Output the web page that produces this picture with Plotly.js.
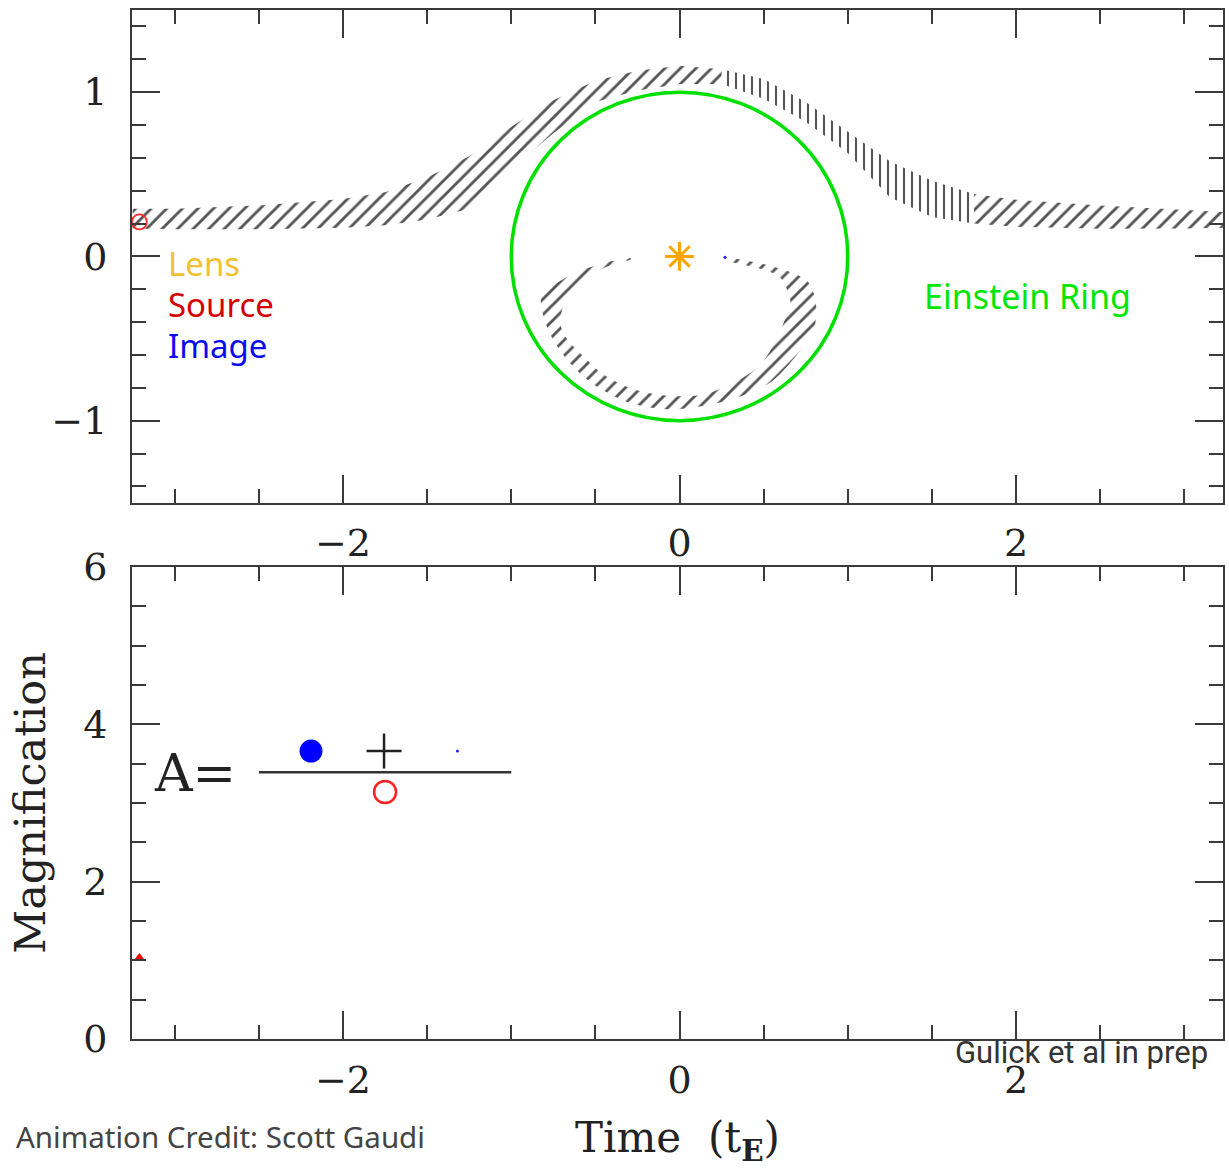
<!DOCTYPE html>
<html>
<head>
<meta charset="utf-8">
<script src="https://cdn.plot.ly/plotly-3.0.1.min.js"></script>
<style>html,body{margin:0;padding:0;background:#fff;}#chart{width:1229px;height:1168px;}</style>
</head>
<body>
<div id="chart"></div>
<script>
// ---- Data ----
// Major image trail (hatched band, top panel)
const timeGrid    = [-3.25, -3.0, -2.5, -2.0, -1.75, -1.5, -1.25, -1.0, -0.75, -0.5, -0.25, 0, 0.25, 0.5, 0.75, 1.0, 1.25, 1.5, 1.75, 2.0, 2.5, 3.0, 3.25];
const majorTop    = [0.29, 0.29, 0.31, 0.35, 0.39, 0.48, 0.61, 0.79, 0.95, 1.07, 1.13, 1.16, 1.14, 1.08, 0.94, 0.76, 0.58, 0.46, 0.38, 0.345, 0.31, 0.286, 0.27];
const majorBottom = [0.17, 0.165, 0.165, 0.175, 0.19, 0.225, 0.29, 0.53, 0.75, 0.94, 1.01, 1.05, 1.05, 0.96, 0.82, 0.63, 0.36, 0.24, 0.20, 0.18, 0.168, 0.17, 0.175];
// Minor image trail (hatched loop inside the Einstein ring)
const loopOuterX = [-0.29, -0.45, -0.66, -0.82, -0.81, -0.76, -0.65, -0.51, -0.30, -0.07, 0.14, 0.34, 0.55, 0.72, 0.80, 0.81, 0.76, 0.55, 0.27];
const loopOuterY = [-0.01, -0.04, -0.12, -0.24, -0.36, -0.49, -0.65, -0.78, -0.89, -0.93, -0.91, -0.86, -0.76, -0.57, -0.44, -0.28, -0.15, -0.06, -0.01];
const loopInnerX = [-0.29, -0.45, -0.58, -0.68, -0.71, -0.67, -0.57, -0.45, -0.27, -0.05, 0.14, 0.32, 0.48, 0.58, 0.62, 0.66, 0.60, 0.50, 0.27];
const loopInnerY = [-0.02, -0.07, -0.17, -0.28, -0.40, -0.50, -0.61, -0.72, -0.81, -0.85, -0.84, -0.77, -0.66, -0.50, -0.40, -0.28, -0.13, -0.08, -0.02];
// Point markers
const sourceX = [-3.21], sourceY = [0.21];
const lensX = [0], lensY = [0];
const imageX = [0.27], imageY = [-0.005];
const ringRadius = 1;
const magX = [-3.21], magY = [1.03];
// Formula glyph positions (bottom panel)
const fImgX = [-2.19], fImgY = [3.66];
const fPlusX = [-1.756], fPlusY = [3.66];
const fMinorX = [-1.32], fMinorY = [3.66];
const fSrcX = [-1.75], fSrcY = [3.14];
const fLineX = [-2.5, -1.0], fLineY = 3.39;
// Labels
const legendLabels = ["Lens", "Source", "Image"];
const legendColors = ["#f2c12e", "#d40000", "#0a0af0"];
const legendY = [-0.04, -0.29, -0.54];

const HATCH = "#555555";
function band(xs, top, bot, i0, i1) {
  const x = xs.slice(i0, i1 + 1), t = top.slice(i0, i1 + 1), b = bot.slice(i0, i1 + 1);
  return {x: x.concat(x.slice().reverse()), y: t.concat(b.slice().reverse())};
}
function loopPoly() {
  return {
    x: loopOuterX.concat(loopInnerX.slice().reverse()),
    y: loopOuterY.concat(loopInnerY.slice().reverse())
  };
}
function hatchTrace(poly, shape, spline, size) {
  return {
    type: "scatter", mode: "lines", x: poly.x, y: poly.y, xaxis: "x", yaxis: "y",
    fill: "toself", fillcolor: "rgba(0,0,0,0)",
    line: {width: 0, color: "rgba(0,0,0,0)", shape: spline ? "spline" : "linear", smoothing: 0.8},
    fillpattern: {shape: shape, size: size, solidity: 0.26, fgcolor: HATCH, bgcolor: "rgba(0,0,0,0)"},
    hoverinfo: "skip", showlegend: false
  };
}
const iSplit1 = timeGrid.indexOf(0.25), iSplit2 = timeGrid.indexOf(1.75);
const traces = [
  hatchTrace(band(timeGrid, majorTop, majorBottom, 0, iSplit1), "/", false, 11),
  hatchTrace(band(timeGrid, majorTop, majorBottom, iSplit1, iSplit2), "|", false, 8),
  hatchTrace(band(timeGrid, majorTop, majorBottom, iSplit2, timeGrid.length - 1), "/", false, 11),
  hatchTrace(loopPoly(), "/", true, 11),
  {type: "scatter", mode: "markers", x: sourceX, y: sourceY, xaxis: "x", yaxis: "y",
   marker: {symbol: "circle-open", size: 15, color: "#ff2a2a", line: {width: 1.8, color: "#ff2a2a"}}, showlegend: false},
  {type: "scatter", mode: "markers", x: lensX, y: lensY, xaxis: "x", yaxis: "y",
   marker: {symbol: "asterisk-open", size: 24, color: "#ffa500", line: {width: 3, color: "#ffa500"}}, showlegend: false},
  {type: "scatter", mode: "markers", x: imageX, y: imageY, xaxis: "x", yaxis: "y",
   marker: {symbol: "circle", size: 3, color: "#2020ff"}, showlegend: false},
  {type: "scatter", mode: "markers", x: magX, y: magY, xaxis: "x2", yaxis: "y2",
   marker: {symbol: "triangle-up", size: 10, color: "#ff0000"}, showlegend: false},
  {type: "scatter", mode: "markers", x: fImgX, y: fImgY, xaxis: "x2", yaxis: "y2",
   marker: {symbol: "circle", size: 23, color: "#0000ff"}, showlegend: false},
  {type: "scatter", mode: "markers", x: fPlusX, y: fPlusY, xaxis: "x2", yaxis: "y2",
   marker: {symbol: "cross-thin-open", size: 25, color: "#222", line: {width: 2.5, color: "#222"}}, showlegend: false},
  {type: "scatter", mode: "markers", x: fMinorX, y: fMinorY, xaxis: "x2", yaxis: "y2",
   marker: {symbol: "circle", size: 3, color: "#2020ff"}, showlegend: false},
  {type: "scatter", mode: "markers", x: fSrcX, y: fSrcY, xaxis: "x2", yaxis: "y2",
   marker: {symbol: "circle-open", size: 22, color: "#ff2020", line: {width: 2.5, color: "#ff2020"}}, showlegend: false}
];

const AX = "#3a3a3a";
const SERIF = "DejaVu Serif";
const SANS = "Noto Sans";
function xAxis(anchor) {
  return {
    anchor: anchor, range: [-3.254, 3.23], domain: [0, 1],
    showline: true, linecolor: AX, linewidth: 2, mirror: "ticks",
    ticks: "inside", ticklen: 28, tickwidth: 2, tickcolor: AX,
    tickmode: "linear", tick0: 0, dtick: 2,
    minor: {ticks: "inside", ticklen: 14, tickwidth: 2, tickcolor: AX, dtick: 0.5, tick0: 0, showgrid: false},
    showgrid: false, zeroline: false, ticklabelstandoff: 6,
    tickfont: {family: SERIF, size: 38, color: "#222"}
  };
}
function yAxis(anchor, domain, range, dtick, minorDtick) {
  return {
    anchor: anchor, domain: domain, range: range,
    showline: true, linecolor: AX, linewidth: 2, mirror: "ticks",
    ticks: "inside", ticklen: 28, tickwidth: 2, tickcolor: AX,
    tickmode: "linear", tick0: 0, dtick: dtick,
    minor: {ticks: "inside", ticklen: 14, tickwidth: 2, tickcolor: AX, dtick: minorDtick, tick0: 0, showgrid: false},
    showgrid: false, zeroline: false, ticklabelstandoff: 15,
    tickfont: {family: SERIF, size: 38, color: "#222"}
  };
}

const annotations = legendLabels.map((t, i) => ({
  xref: "x", yref: "y", x: -3.05, y: legendY[i], text: t, showarrow: false,
  xanchor: "left", yanchor: "middle", font: {family: SANS, size: 33, color: legendColors[i]}
}));
annotations.push(
  {xref: "x", yref: "y", x: 1.44, y: -0.24, text: "Einstein Ring", showarrow: false,
   xanchor: "left", yanchor: "middle", font: {family: SANS, size: 34, color: "#00e600"}},
  {xref: "x2", yref: "y2", x: -2.88, y: 3.38, text: "A=", showarrow: false,
   xanchor: "center", yanchor: "middle", font: {family: SERIF, size: 52, color: "#222"}},
  {xref: "paper", yref: "paper", x: 0.988, y: -0.0136, text: "Gulick et al in prep", showarrow: false,
   xanchor: "right", yanchor: "middle", font: {family: "Roboto", size: 31, color: "#333"}},
  {xref: "paper", yref: "paper", x: -0.1081, y: -0.0952, text: "Animation Credit: Scott Gaudi", showarrow: false,
   xanchor: "left", yanchor: "middle", font: {family: SANS, size: 29.5, color: "#444"}}
);

const xa1 = xAxis("y");
const xa2 = xAxis("y2");
xa2.title = {text: "Time  (t<sub><b>E</b></sub>)", font: {family: SERIF, size: 42, color: "#222"}, standoff: 26};
const ya1 = yAxis("x", [0.521, 1], [-1.5, 1.5], 1, 0.2);
const ya2 = yAxis("x2", [0, 0.4587], [0, 6], 2, 0.5);
ya2.title = {text: "Magnification", font: {family: SERIF, size: 43, color: "#222"}, standoff: 24};

const layout = {
  width: 1229, height: 1168,
  margin: {l: 132, r: 6, t: 10, b: 129, pad: 0},
  paper_bgcolor: "#ffffff", plot_bgcolor: "#ffffff",
  showlegend: false,
  xaxis: xa1, yaxis: ya1, xaxis2: xa2, yaxis2: ya2,
  shapes: [
    {type: "circle", xref: "x", yref: "y", x0: -ringRadius, x1: ringRadius, y0: -ringRadius, y1: ringRadius,
     line: {color: "#00e000", width: 3.5}, layer: "above"},
    {type: "line", xref: "x2", yref: "y2", x0: fLineX[0], x1: fLineX[1], y0: fLineY, y1: fLineY,
     line: {color: "#333", width: 2.5}}
  ],
  annotations: annotations
};

Plotly.newPlot("chart", traces, layout, {displayModeBar: false, staticPlot: true});
</script>
</body>
</html>
